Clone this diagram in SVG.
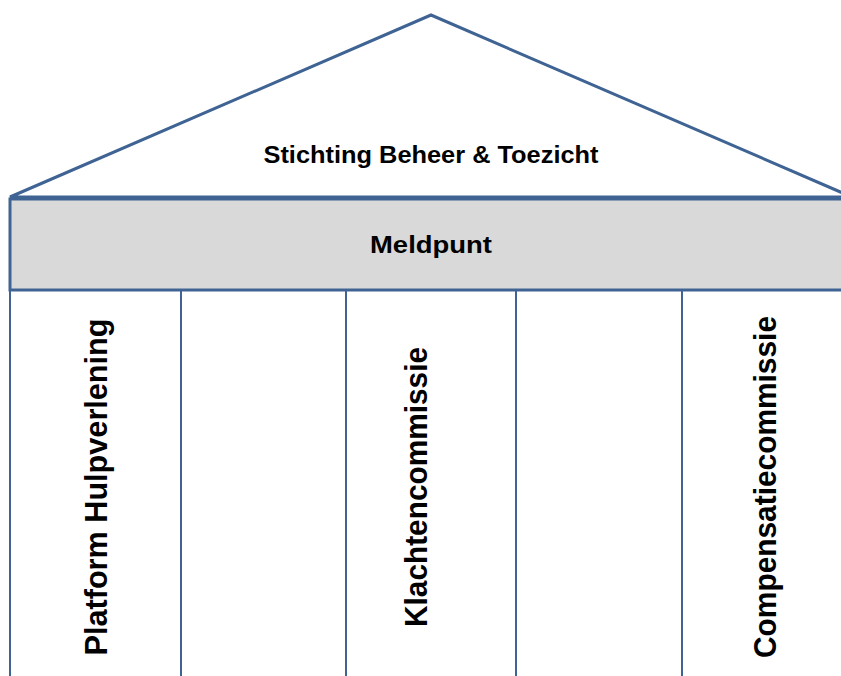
<svg xmlns="http://www.w3.org/2000/svg" width="841" height="676" viewBox="0 0 841 676">
<style>
.shape{stroke:#3F6494;stroke-width:3;}
.col{stroke:#3F6494;stroke-width:2;fill:none;}
.lbl{font-family:"Liberation Sans",Arial,sans-serif;font-weight:bold;fill:#000;text-anchor:middle;}
</style>
<rect width="841" height="676" fill="#fff"/>
<g id="roof">
<polygon class="shape" points="10,197 431,15 852,197" fill="#fff"/>
<text class="lbl" x="431" y="163" font-size="24" textLength="335" lengthAdjust="spacingAndGlyphs">Stichting Beheer &amp; Toezicht</text>
</g>
<g id="meldpunt">
<rect class="shape" x="10" y="199" width="845" height="91" fill="#D9D9D9"/>
<text class="lbl" x="431" y="253" font-size="24" textLength="122" lengthAdjust="spacingAndGlyphs">Meldpunt</text>
</g>
<g id="connectors">
<line class="col" x1="10" y1="290" x2="10" y2="680"/>
<line class="col" x1="181" y1="290" x2="181" y2="680"/>
<line class="col" x1="346" y1="290" x2="346" y2="680"/>
<line class="col" x1="516" y1="290" x2="516" y2="680"/>
<line class="col" x1="682" y1="290" x2="682" y2="680"/>
</g>
<g id="platform">
<text class="lbl" transform="translate(107,487) rotate(-90)" font-size="31" textLength="337" lengthAdjust="spacingAndGlyphs">Platform Hulpverlening</text>
</g>
<g id="klachtencommissie">
<text class="lbl" transform="translate(427,487) rotate(-90)" font-size="31" textLength="280" lengthAdjust="spacingAndGlyphs">Klachtencommissie</text>
</g>
<g id="compensatiecommissie">
<text class="lbl" transform="translate(776,487) rotate(-90)" font-size="31" textLength="342" lengthAdjust="spacingAndGlyphs">Compensatiecommissie</text>
</g>
</svg>
